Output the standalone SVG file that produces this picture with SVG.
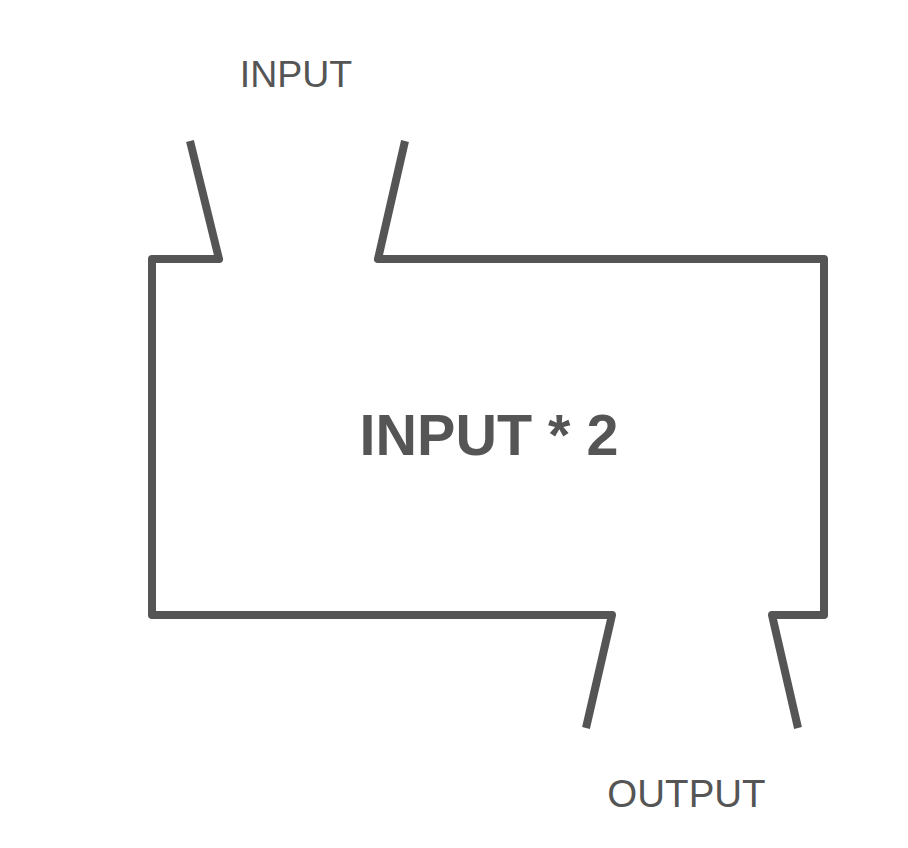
<svg xmlns="http://www.w3.org/2000/svg" width="908" height="848" viewBox="0 0 908 848">
<style>
.ln{fill:none;stroke:#555555;stroke-width:8;stroke-linejoin:round;stroke-linecap:butt}
.t{font-family:"Liberation Sans",Arial,sans-serif;fill:#555555;text-anchor:middle}
</style>
<rect width="908" height="848" fill="#ffffff"/>
<g id="connectors"></g>
<g id="block">
<path class="ln" d="M190,141 L219,259 L152,259 L152,615 L612,615 L586,728"/>
<path class="ln" d="M405,141 L378,259 L824,259 L824,615 L772,615 L798,728"/>
<text class="t" x="489" y="455" font-size="57.5" font-weight="bold">INPUT * 2</text>
</g>
<g id="input-label"><text class="t" x="296" y="87" font-size="37.5">INPUT</text></g>
<g id="output-label"><text class="t" x="686.5" y="807" font-size="38.5">OUTPUT</text></g>
</svg>
